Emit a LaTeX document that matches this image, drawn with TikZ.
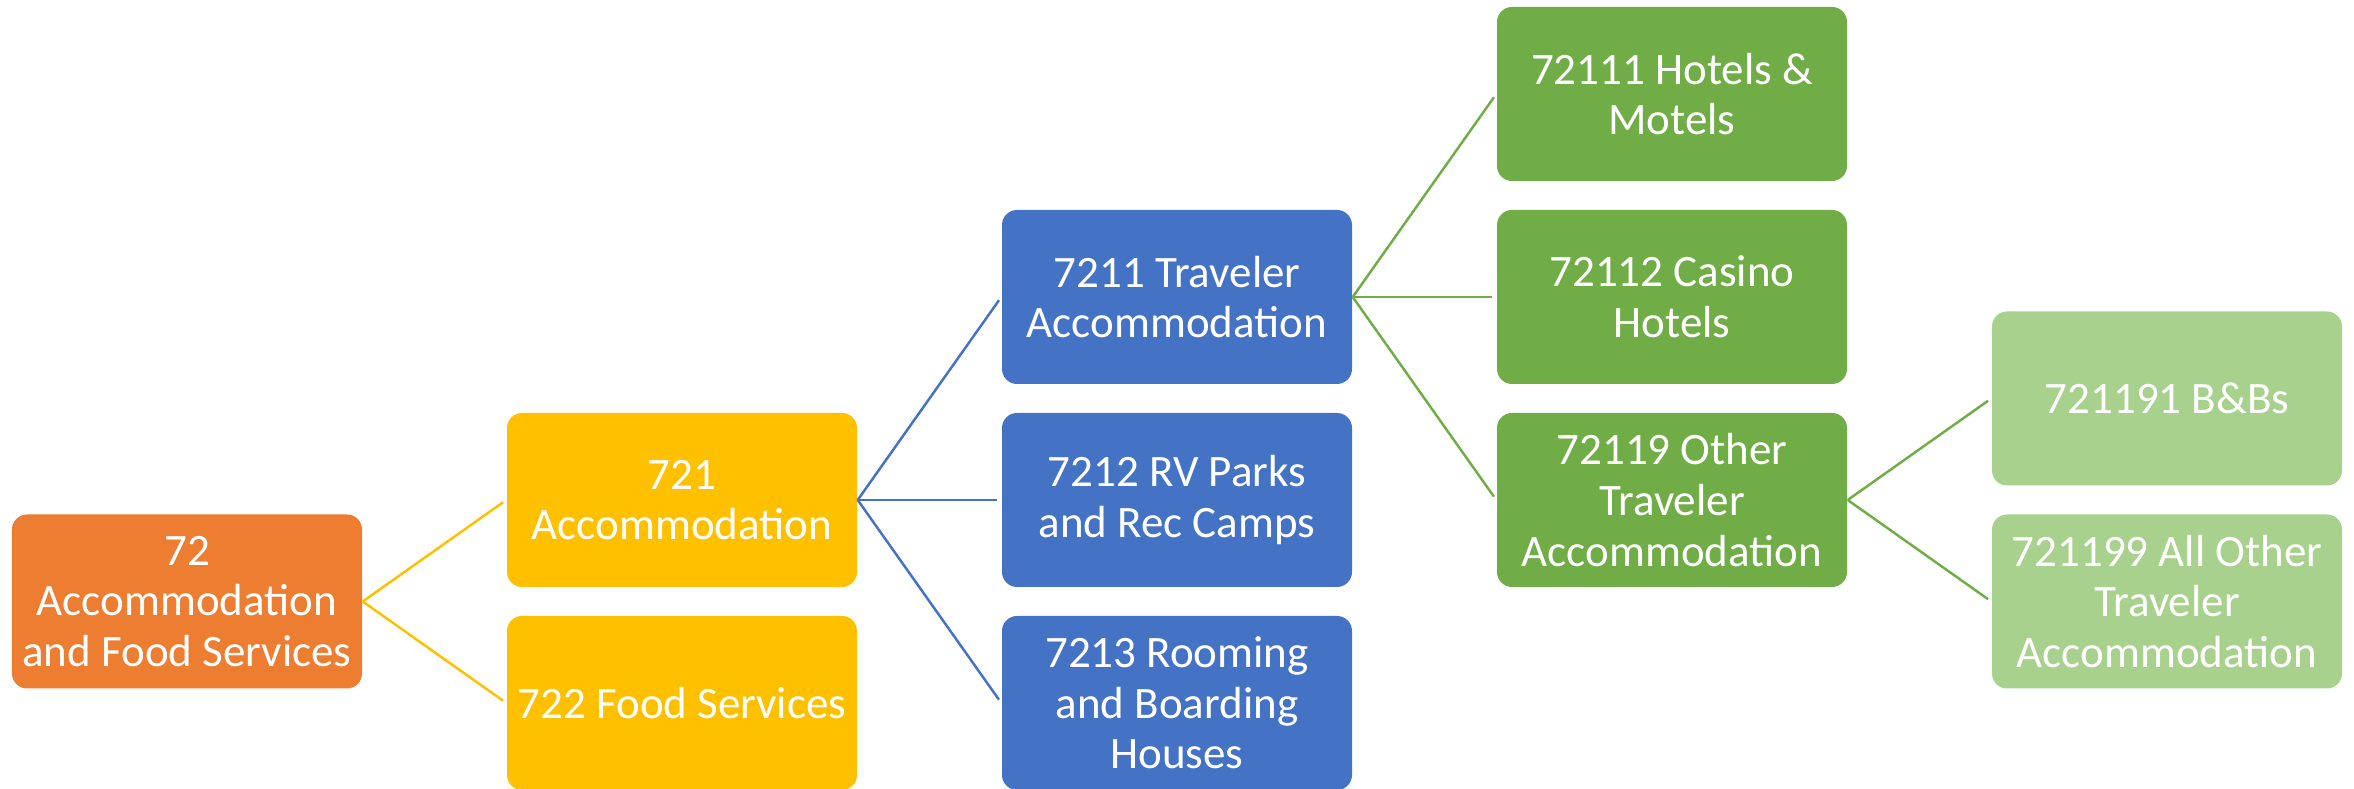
\documentclass[tikz,border=0pt]{standalone}
\usepackage{fontspec}
\setmainfont{Carlito}
\usepackage{tikz}
\usetikzlibrary{shapes}
\usetikzlibrary{positioning}
\usepackage{xcolor}
\definecolor{naicsorange}{HTML}{ED7D31}
\definecolor{naicsyellow}{HTML}{FFC000}
\definecolor{naicsblue}{HTML}{4472C4}
\definecolor{naicsgreen}{HTML}{70AD47}
\definecolor{naicslight}{HTML}{A9D18E}

\begin{document}
\begin{tikzpicture}[
  box/.style={rectangle, rounded corners=.15cm, minimum width=3.5cm, minimum height=1.74cm,
    inner sep=0pt, text=white, align=center, font=\fontsize{12.8}{14.4}\selectfont},
  link/.style={draw=#1, line width=.7pt, shorten >=.04cm}]
\useasboundingbox (0,0) rectangle (23.54,7.89);
\node[box, fill=naicsorange] (n72) at (1.87,1.875) {72\\Accommodation\\and Food Services};
\node[box, fill=naicsyellow] (n721) at (6.82,2.89) {721\\Accommodation};
\node[box, fill=naicsyellow] (n722) at (6.82,0.86) {722 Food Services};
\node[box, fill=naicsblue] (n7211) at (11.77,4.92) {7211 Traveler\\Accommodation};
\node[box, fill=naicsblue] (n7212) at (11.77,2.89) {7212 RV Parks\\and Rec Camps};
\node[box, fill=naicsblue] (n7213) at (11.77,0.86) {7213 Rooming\\and Boarding\\Houses};
\node[box, fill=naicsgreen] (n72111) at (16.72,6.95) {72111 Hotels \&\\Motels};
\node[box, fill=naicsgreen] (n72112) at (16.72,4.92) {72112 Casino\\Hotels};
\node[box, fill=naicsgreen] (n72119) at (16.72,2.89) {72119 Other\\Traveler\\Accommodation};
\node[box, fill=naicslight] (n721191) at (21.67,3.905) {721191 B\&Bs};
\node[box, fill=naicslight] (n721199) at (21.67,1.875) {721199 All Other\\Traveler\\Accommodation};
% connectors
\draw[link=naicsyellow] (n72.east) -- (n721.west);
\draw[link=naicsyellow] (n72.east) -- (n722.west);
\draw[link=naicsblue] (n721.east) -- (n7211.west);
\draw[link=naicsblue] (n721.east) -- (n7212.west);
\draw[link=naicsblue] (n721.east) -- (n7213.west);
\draw[link=naicsgreen] (n7211.east) -- (n72111.west);
\draw[link=naicsgreen] (n7211.east) -- (n72112.west);
\draw[link=naicsgreen] (n7211.east) -- (n72119.west);
\draw[link=naicsgreen] (n72119.east) -- (n721191.west);
\draw[link=naicsgreen] (n72119.east) -- (n721199.west);
\end{tikzpicture}
\end{document}
